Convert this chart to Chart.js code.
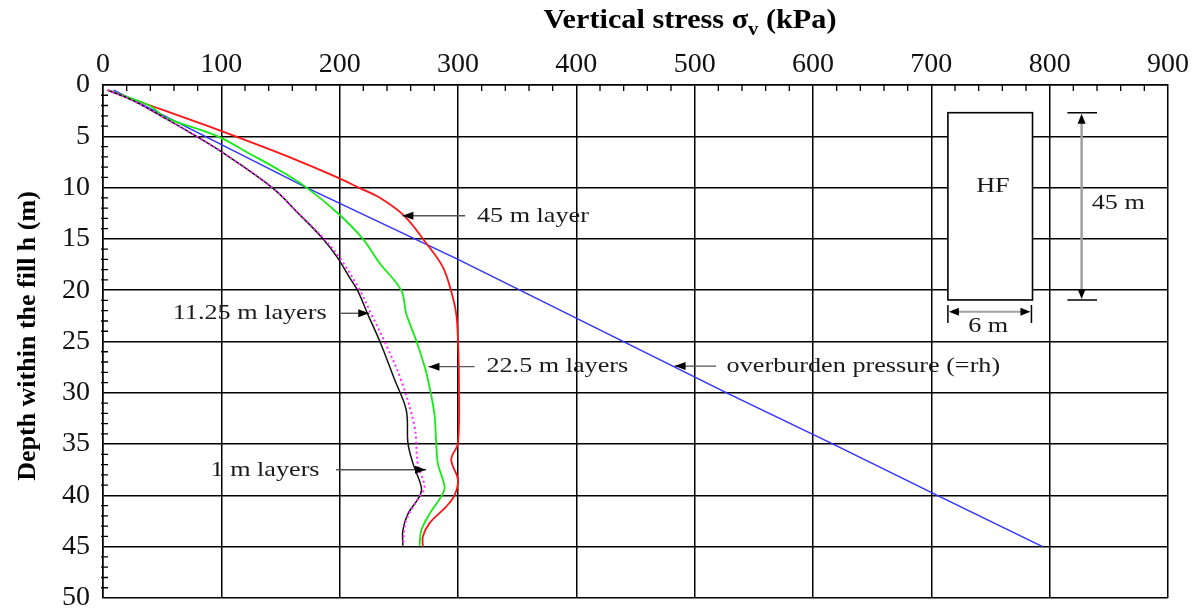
<!DOCTYPE html>
<html>
<head>
<meta charset="utf-8">
<script src="https://cdn.jsdelivr.net/npm/chart.js@4.4.1/dist/chart.umd.min.js"></script>
<style>
  html, body { margin: 0; padding: 0; background: #fff; }
  #wrap { width: 1203px; height: 608px; }
</style>
</head>
<body>
<div id="wrap"><canvas id="out"></canvas></div>
<script>
// vertical stress (kPa) against depth within the fill (m)
const overburdenDepth = [0.5, 10, 17, 30, 35, 40, 45];
const overburdenStress = [9, 172, 300, 527, 617, 705, 794];

const layer45Depth = [0.5, 2, 3.1, 5, 7, 9, 10, 11, 12.8, 15.4, 17.7, 20, 22.3, 24.9, 28.8, 34.9, 36.5, 38.5, 40, 41.1, 42.7, 44, 45];
const layer45Stress = [4, 40, 67, 112, 157, 198, 216, 234, 255, 273, 287, 294, 298.5, 300, 300.8, 300, 294.3, 300, 297, 290, 276, 270.3, 270.3];

const layer22Depth = [0.5, 2, 3.2, 5, 6.7, 8.3, 10, 12.5, 15, 17.4, 20, 22.3, 24.9, 27.5, 28.7, 32, 34.9, 36.9, 39.2, 40.1, 41.8, 43.4, 44.9];
const layer22Stress = [4, 39, 53.5, 97, 124, 149, 172, 198.5, 219.6, 234, 252, 256.3, 264.7, 272, 274.6, 280, 281.6, 283, 288.7, 285.9, 276, 269, 267.5];

const layer11Depth = [0.5, 1.5, 3.3, 5, 6.5, 10, 12.5, 15, 16.8, 18.7, 20, 22.4, 25, 28.7, 31.7, 34.9, 36.9, 39.2, 40.1, 41.8, 43.4, 44.9];
const layer11Stress = [4, 25, 53.5, 79, 100, 143, 165, 186, 198, 208, 215, 224, 234, 246.4, 256.3, 257.7, 262, 269, 267.5, 257.7, 253.4, 253.4];

const layer1Depth = [0.5, 1.5, 3.3, 5, 6.5, 10, 12.5, 15, 17, 20, 22.4, 25, 28.7, 33.3, 36.9, 39.2, 40.1, 42.4, 44.9];
const layer1Stress = [4, 25, 53.5, 79, 100, 143, 165, 187, 201, 217, 227, 238, 251.7, 263.3, 266, 271.8, 267.5, 256.3, 253.4];

const stressTicks = [0, 100, 200, 300, 400, 500, 600, 700, 800, 900];
const depthTicks = [0, 5, 10, 15, 20, 25, 30, 35, 40, 45, 50];

// labels and arrows, placed in data units (kPa, m)
const notes = [
  { text: '45 m layer', x: 316, y: 12.75, align: 'left' },
  { text: '11.25 m layers', x: 189, y: 22.25, align: 'right' },
  { text: '22.5 m layers', x: 324, y: 27.45, align: 'left' },
  { text: 'overburden pressure (=rh)', x: 527, y: 27.4, align: 'left' },
  { text: '1 m layers', x: 183, y: 37.5, align: 'right' },
  { text: 'HF', x: 752, y: 9.9, align: 'center' },
  { text: '45 m', x: 858, y: 11.5, align: 'center' },
  { text: '6 m', x: 748, y: 23.5, align: 'center' }
];
const arrows = [
  { x1: 306, y1: 12.75, x2: 253, y2: 12.75 },
  { x1: 201, y1: 22.25, x2: 225, y2: 22.25 },
  { x1: 314, y1: 27.45, x2: 275, y2: 27.45 },
  { x1: 518, y1: 27.4, x2: 483, y2: 27.4 },
  { x1: 197, y1: 37.5, x2: 273, y2: 37.5 }
];
const hfBox = { x1: 714, x2: 785.5, y1: 2.7, y2: 20.95 };

const serif = "'Liberation Serif', 'DejaVu Serif', serif";

function pairs(xs, ys) {
  return xs.map((v, i) => ({ x: v, y: ys[i] }));
}

function stretched(ctx, text, x, y, align, sx) {
  ctx.save();
  ctx.translate(x, y);
  ctx.scale(sx, 1);
  ctx.textAlign = align;
  ctx.fillText(text, 0, 0);
  ctx.restore();
}

function arrowHead(ctx, x1, y1, x2, y2, len, half) {
  const a = Math.atan2(y2 - y1, x2 - x1);
  ctx.beginPath();
  ctx.moveTo(x2, y2);
  ctx.lineTo(x2 - len * Math.cos(a) + half * Math.sin(a), y2 - len * Math.sin(a) - half * Math.cos(a));
  ctx.lineTo(x2 - len * Math.cos(a) - half * Math.sin(a), y2 - len * Math.sin(a) + half * Math.cos(a));
  ctx.closePath();
  ctx.fill();
}

const extras = {
  id: 'extras',
  afterDraw(chart) {
    const { ctx, chartArea: area } = chart;
    const xs = chart.scales.x, ys = chart.scales.y;
    const px = v => xs.getPixelForValue(v);
    const py = v => ys.getPixelForValue(v);
    ctx.save();

    // minor ticks
    ctx.strokeStyle = '#000';
    ctx.lineWidth = 1.3;
    ctx.beginPath();
    for (let v = 20; v < 900; v += 20) {
      if (v % 100 === 0) continue;
      ctx.moveTo(px(v), area.top);
      ctx.lineTo(px(v), area.top + 6);
    }
    for (let d = 1; d < 50; d++) {
      if (d % 5 === 0) continue;
      ctx.moveTo(area.left - 2, py(d));
      ctx.lineTo(area.left + 5, py(d));
    }
    ctx.stroke();

    // HF column
    ctx.fillStyle = '#fff';
    ctx.fillRect(px(hfBox.x1), py(hfBox.y1), px(hfBox.x2) - px(hfBox.x1), py(hfBox.y2) - py(hfBox.y1));
    ctx.lineWidth = 1.6;
    ctx.strokeRect(px(hfBox.x1), py(hfBox.y1), px(hfBox.x2) - px(hfBox.x1), py(hfBox.y2) - py(hfBox.y1));

    // 45 m dimension
    const dx = px(827);
    ctx.strokeStyle = '#a0a0a0';
    ctx.lineWidth = 2.5;
    ctx.beginPath();
    ctx.moveTo(dx, py(hfBox.y1) + 4);
    ctx.lineTo(dx, py(hfBox.y2) - 4);
    ctx.stroke();
    ctx.strokeStyle = '#000';
    ctx.lineWidth = 1.5;
    ctx.beginPath();
    ctx.moveTo(px(815), py(hfBox.y1)); ctx.lineTo(px(840), py(hfBox.y1));
    ctx.moveTo(px(815), py(hfBox.y2)); ctx.lineTo(px(840), py(hfBox.y2));
    ctx.stroke();
    ctx.fillStyle = '#000';
    arrowHead(ctx, dx, py(hfBox.y1) + 12, dx, py(hfBox.y1) + 1, 10, 4);
    arrowHead(ctx, dx, py(hfBox.y2) - 12, dx, py(hfBox.y2) - 1, 10, 4);

    // 6 m dimension
    const dy = py(22.1);
    ctx.strokeStyle = '#a0a0a0';
    ctx.lineWidth = 2;
    ctx.beginPath();
    ctx.moveTo(px(hfBox.x1) + 4, dy);
    ctx.lineTo(px(784.6) - 4, dy);
    ctx.stroke();
    ctx.strokeStyle = '#000';
    ctx.lineWidth = 1.5;
    ctx.beginPath();
    ctx.moveTo(px(hfBox.x1), py(21.45)); ctx.lineTo(px(hfBox.x1), py(23.2));
    ctx.moveTo(px(784.6), py(21.45)); ctx.lineTo(px(784.6), py(23.2));
    ctx.stroke();
    arrowHead(ctx, px(hfBox.x1) + 12, dy, px(hfBox.x1) + 1, dy, 10, 4);
    arrowHead(ctx, px(784.6) - 12, dy, px(784.6) - 1, dy, 10, 4);

    // callout arrows
    arrows.forEach(a => {
      const x1 = px(a.x1), y1 = py(a.y1), x2 = px(a.x2), y2 = py(a.y2);
      ctx.strokeStyle = '#555';
      ctx.lineWidth = 1.4;
      ctx.beginPath();
      ctx.moveTo(x1, y1);
      ctx.lineTo(x2, y2);
      ctx.stroke();
      ctx.fillStyle = '#000';
      arrowHead(ctx, x1, y1, x2, y2, 11, 4);
    });

    // callout texts
    ctx.fillStyle = '#1a1a1a';
    ctx.font = '22px ' + serif;
    ctx.textBaseline = 'middle';
    notes.forEach(n => stretched(ctx, n.text, px(n.x), py(n.y), n.align, 1.19));

    // axis titles
    ctx.fillStyle = '#000';
    ctx.textBaseline = 'alphabetic';
    const big = 'bold 28px ' + serif, small = 'bold 19px ' + serif;
    const main = 'Vertical stress σ', sub = 'v', tail = ' (kPa)';
    ctx.font = big;
    const w1 = ctx.measureText(main).width;
    const w3 = ctx.measureText(tail).width;
    ctx.font = small;
    const w2 = ctx.measureText(sub).width;
    const sx = 1.08;
    const total = (w1 + w2 + w3) * sx;
    ctx.save();
    ctx.translate(690 - total / 2, 28);
    ctx.scale(sx, 1);
    ctx.textAlign = 'left';
    ctx.font = big;
    ctx.fillText(main, 0, 0);
    ctx.font = small;
    ctx.fillText(sub, w1, 7);
    ctx.font = big;
    ctx.fillText(tail, w1 + w2, 0);
    ctx.restore();

    ctx.save();
    ctx.translate(28, 336);
    ctx.rotate(-Math.PI / 2);
    ctx.textAlign = 'center';
    ctx.textBaseline = 'middle';
    ctx.font = 'bold 26px ' + serif;
    ctx.fillText('Depth within the fill h (m)', 0, 0);
    ctx.restore();

    ctx.restore();
  }
};

const tickFont = { family: serif, size: 28 };

const chartConfig = {
  type: 'scatter',
  data: {
    datasets: [
      {
        label: '1 m layers',
        data: pairs(layer1Stress, layer1Depth),
        borderColor: 'rgb(255, 40, 255)',
        borderWidth: 2,
        borderDash: [2, 3]
      },
      {
        label: '11.25 m layers',
        data: pairs(layer11Stress, layer11Depth),
        borderColor: 'rgb(20, 20, 20)',
        borderWidth: 1.5
      },
      {
        label: '22.5 m layers',
        data: pairs(layer22Stress, layer22Depth),
        borderColor: 'rgb(20, 235, 20)',
        borderWidth: 1.8
      },
      {
        label: '45 m layer',
        data: pairs(layer45Stress, layer45Depth),
        borderColor: 'rgb(255, 20, 20)',
        borderWidth: 1.8
      },
      {
        label: 'overburden pressure',
        data: pairs(overburdenStress, overburdenDepth),
        borderColor: 'rgb(50, 50, 255)',
        borderWidth: 1.5,
        tension: 0
      }
    ]
  },
  options: {
    responsive: true,
    maintainAspectRatio: false,
    animation: false,
    showLine: true,
    elements: {
      point: { radius: 0 },
      line: { tension: 0.35, fill: false }
    },
    layout: { padding: { top: 0, left: 0, right: 35, bottom: 10 } },
    plugins: {
      legend: { display: false },
      tooltip: { enabled: false }
    },
    scales: {
      x: {
        type: 'linear',
        position: 'top',
        min: 0,
        max: 900,
        afterBuildTicks: s => { s.ticks = stressTicks.map(v => ({ value: v })); },
        afterFit: s => { s.height = 85; },
        ticks: { font: tickFont, color: '#111', padding: 4, maxRotation: 0 },
        grid: { color: '#000', lineWidth: 1.5, drawTicks: false },
        border: { color: '#000', width: 1.5 }
      },
      y: {
        type: 'linear',
        reverse: true,
        min: 0,
        max: 50,
        afterBuildTicks: s => { s.ticks = depthTicks.map(v => ({ value: v })); },
        afterFit: s => { s.width = 103; },
        // label gap made with an invisible tick mark so the plot keeps its bottom edge
        ticks: { font: { family: serif, size: 28, lineHeight: 0.6 }, color: '#111', padding: 0 },
        grid: { color: '#000', lineWidth: 1.5, drawTicks: true, tickLength: 13, tickColor: 'rgba(0,0,0,0)' },
        border: { color: '#000', width: 1.5 }
      }
    }
  },
  plugins: [extras]
};

window.chart = new Chart(document.getElementById('out').getContext('2d'), chartConfig);
</script>
</body>
</html>
